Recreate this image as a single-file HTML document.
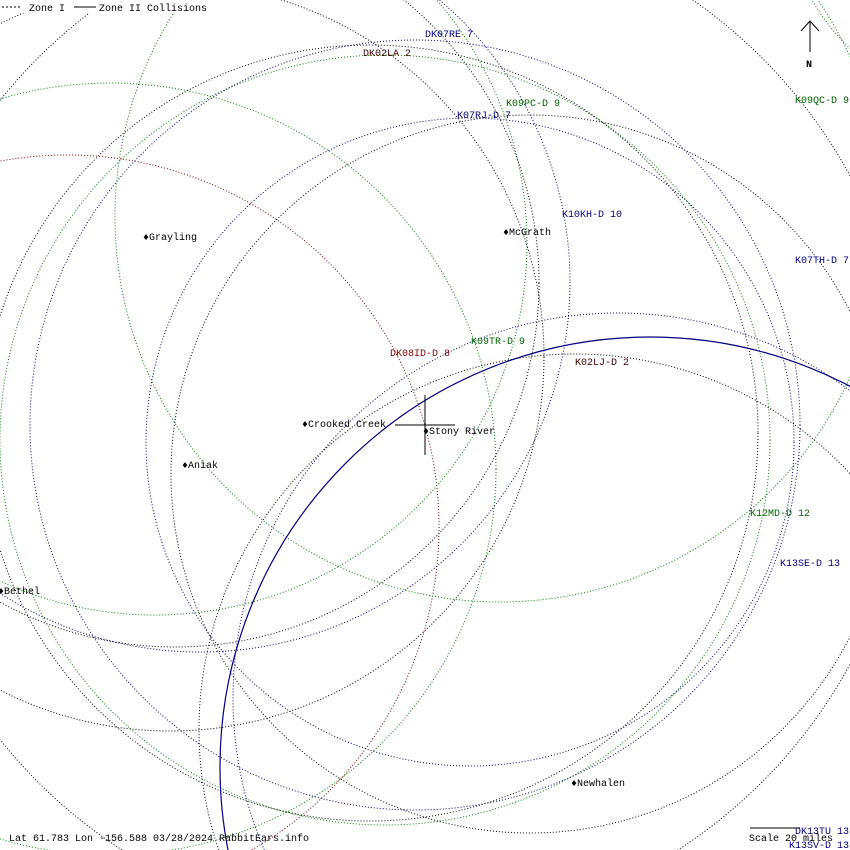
<!DOCTYPE html>
<html><head><meta charset="utf-8"><style>
html,body{margin:0;padding:0;background:#fff;width:850px;height:850px;overflow:hidden;}
svg{display:block;}
text{font-family:"Liberation Mono","DejaVu Sans Mono",monospace;font-size:10px;}
</style></head><body>
<svg width="850" height="850" viewBox="0 0 850 850" xmlns="http://www.w3.org/2000/svg">
<rect width="850" height="850" fill="#fff"/>
<g fill="none" stroke-width="1" stroke-dasharray="1,2">
 <circle cx="67" cy="527" r="372" stroke="#800000"/>
 <circle cx="618" cy="698" r="385" stroke="#000080"/>
 <circle cx="575" cy="730" r="376" stroke="#000000"/>
 <circle cx="370" cy="433" r="388" stroke="#000000"/>
 <circle cx="385" cy="440" r="385" stroke="#008000"/>
 <circle cx="415" cy="425" r="385" stroke="#000080"/>
 <circle cx="110" cy="469" r="386" stroke="#008000"/>
 <circle cx="470" cy="442" r="324" stroke="#000080"/>
 <circle cx="530" cy="474" r="359" stroke="#000000"/>
 <circle cx="200" cy="282" r="370" stroke="#000080"/>
 <circle cx="175" cy="283" r="364" stroke="#000000"/>
 <circle cx="170" cy="357" r="374" stroke="#000000"/>
 <circle cx="155" cy="243" r="372" stroke="#008000"/>
 <circle cx="500" cy="217" r="385" stroke="#008000"/>
 <circle cx="400" cy="420" r="512" stroke="#000000"/>
 <circle cx="1000" cy="-110" r="218" stroke="#008000"/>
</g>
<circle cx="650" cy="767" r="430" fill="none" stroke="#000080" stroke-width="1.2"/>
<line x1="395" y1="425" x2="455" y2="425" stroke="#000"/>
<line x1="425" y1="395" x2="425" y2="455" stroke="#000"/>
<rect x="0" y="0" width="210" height="13" fill="#fff"/>
<line x1="2" y1="7" x2="22" y2="7" stroke="#000" stroke-dasharray="2,2"/>
<text x="29" y="11" fill="#000">Zone I</text>
<line x1="74" y1="7" x2="96" y2="7" stroke="#000"/>
<text x="99" y="11" fill="#000">Zone II Collisions</text>
<line x1="810" y1="21" x2="810" y2="52" stroke="#000"/>
<polyline points="801,31 810,21 819,31" fill="none" stroke="#000"/>
<text x="806" y="67" fill="#000" font-weight="bold">N</text>
<g fill="#000080">
<text x="425" y="37">DK07RE 7</text>
<text x="457" y="118">K07RJ-D 7</text>
<text x="562" y="217">K10KH-D 10</text>
<text x="795" y="263">K07TH-D 7</text>
<text x="780" y="566">K13SE-D 13</text>
<text x="795" y="834">DK13TU 13</text>
<text x="789" y="848">K13SV-D 13</text>
</g>
<g fill="#006400">
<text x="506" y="106">K09PC-D 9</text>
<text x="795" y="103">K09QC-D 9</text>
<text x="471" y="344">K09TR-D 9</text>
<text x="750" y="516">K12MD-D 12</text>
</g>
<g fill="#400000">
<text x="363" y="56">DK02LA 2</text>
<text x="575" y="365">K02LJ-D 2</text>
</g>
<text x="390" y="356" fill="#800000">DK08ID-D 8</text>
<g fill="#000">
<text x="143" y="240">♦Grayling</text>
<text x="503" y="235">♦McGrath</text>
<text x="302" y="427">♦Crooked Creek</text>
<text x="423" y="434">♦Stony River</text>
<text x="182" y="468">♦Aniak</text>
<text x="-2" y="594">♦Bethel</text>
<text x="571" y="786">♦Newhalen</text>
<text x="9" y="841">Lat 61.783 Lon -156.588 03/28/2024 RabbitEars.info</text>
<text x="749" y="841">Scale 20 miles</text>
</g>
<line x1="750" y1="828" x2="800" y2="828" stroke="#000"/>
</svg>
</body></html>
